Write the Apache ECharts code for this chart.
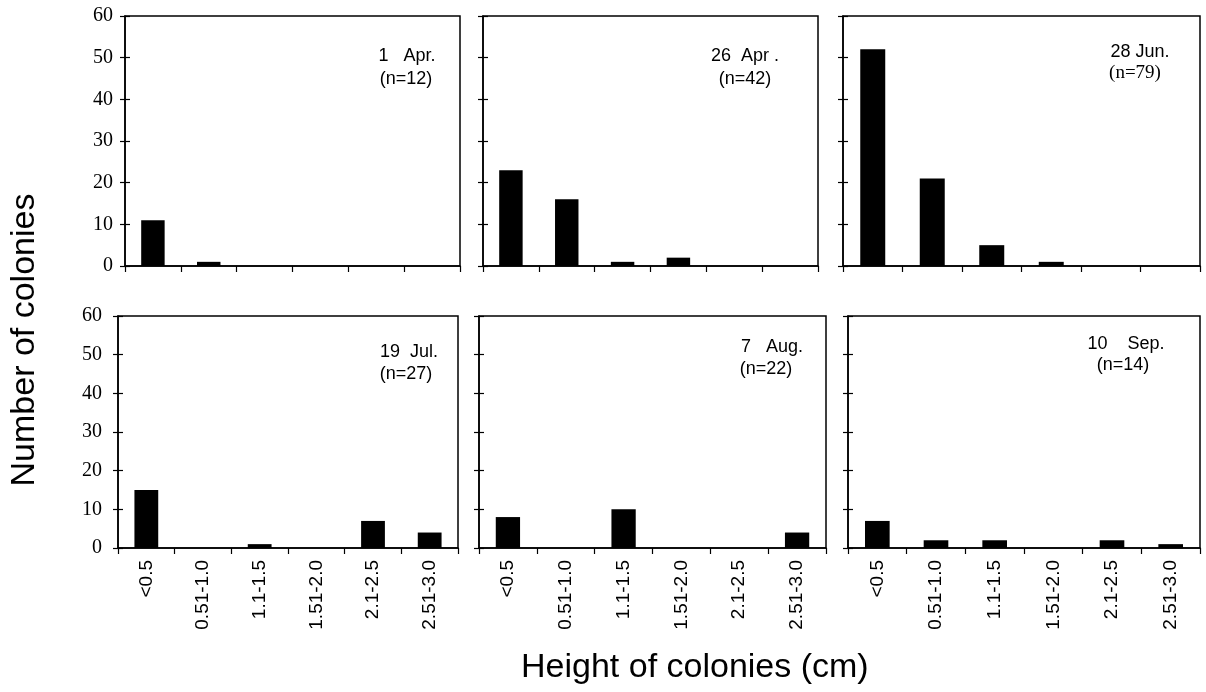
<!DOCTYPE HTML>
<html>
<head>
<meta http-equiv="Content-Type" content="text/html; charset=utf-8">
<title>Height of colonies</title>
<script type="text/javascript" src="https://cdn.jsdelivr.net/npm/echarts@6/dist/echarts.min.js"></script>
<style>
  body { margin: 0; background: #fff; }
  #chart { width: 1206px; height: 692px; }
</style>
</head>
<body>
<div id="chart"></div>
<script type="text/javascript">
var categories = ['<0.5', '0.51-1.0', '1.1-1.5', '1.51-2.0', '2.1-2.5', '2.51-3.0'];
var yTicks = [0, 10, 20, 30, 40, 50, 60];

var apr1  = [11, 1, 0, 0, 0, 0];
var apr26 = [23, 16, 1, 2, 0, 0];
var jun28 = [52, 21, 5, 1, 0, 0];
var jul19 = [15, 0, 1, 0, 7, 4];
var aug7  = [8, 0, 10, 0, 0, 4];
var sep10 = [7, 2, 2, 0, 2, 1];

var panelData = [apr1, apr26, jun28, jul19, aug7, sep10];
var panelDate = ['1   Apr.', '26  Apr .', '28 Jun.', '19  Jul.', '7   Aug.', '10    Sep.'];
var panelN = ['(n=12)', '(n=42)', '(n=79)', '(n=27)', '(n=22)', '(n=14)'];

var grids = [
  {left: 125, top: 16,  width: 335, height: 250},
  {left: 483, top: 16,  width: 335, height: 250},
  {left: 843, top: 16,  width: 357, height: 250},
  {left: 118, top: 316, width: 340, height: 232},
  {left: 479, top: 316, width: 347, height: 232},
  {left: 848, top: 316, width: 352, height: 232}
];
// annotation positions: [date x, date y, n x, n y]
var notePos = [
  [407, 47, 406, 70],
  [745, 47, 745, 70],
  [1140, 43, 1135, 64],
  [409, 343, 406, 365],
  [772, 338, 766, 360],
  [1126, 335, 1123, 356]
];

var sans = 'Arial, "Liberation Sans", sans-serif';
var serif = '"Times New Roman", "Liberation Serif", serif';

var chart = echarts.init(document.getElementById('chart'));

var gridOpts = [], xAxes = [], yAxes = [], series = [], graphics = [];
for (var i = 0; i < 6; i++) {
  var g = grids[i];
  gridOpts.push({left: g.left, top: g.top, width: g.width, height: g.height,
    show: true, borderColor: '#000', borderWidth: 1.5, containLabel: false});
  xAxes.push({
    type: 'category', gridIndex: i, data: categories, boundaryGap: true,
    axisLine: {lineStyle: {color: '#000', width: 1.5}},
    axisTick: {show: true, length: 6, lineStyle: {color: '#000', width: 1.2}},
    axisLabel: {show: i >= 3, rotate: 90, interval: 0, margin: 12,
      color: '#000', fontSize: 19, fontFamily: sans},
    splitLine: {show: false}
  });
  // outer ticks with labels
  yAxes.push({
    type: 'value', gridIndex: i, min: 0, max: 60, interval: 10,
    axisLine: {show: true, lineStyle: {color: '#000', width: 1.5}},
    axisTick: {show: true, length: 5, lineStyle: {color: '#000', width: 1.2}},
    axisLabel: {show: i === 0 || i === 3, color: '#000', fontSize: 20,
      fontFamily: serif, margin: i === 3 ? 16 : 12},
    splitLine: {show: false}
  });
  // inner ticks so they cross the axis like the original
  yAxes.push({
    type: 'value', gridIndex: i, min: 0, max: 60, interval: 10, position: 'left',
    axisLine: {show: false},
    axisTick: {show: true, inside: true, length: 5, lineStyle: {color: '#000', width: 1.2}},
    axisLabel: {show: false},
    splitLine: {show: false}
  });
  series.push({
    type: 'bar', xAxisIndex: i, yAxisIndex: i * 2, data: panelData[i],
    barWidth: '42%', itemStyle: {color: '#000'}, silent: true
  });
  var p = notePos[i];
  graphics.push({type: 'text', x: p[0], y: p[1],
    style: {text: panelDate[i], textAlign: 'center', fill: '#000',
      font: '18px ' + sans}});
  graphics.push({type: 'text', x: p[2], y: p[3],
    style: {text: panelN[i], textAlign: 'center', fill: '#000',
      font: (i === 2 ? '19px ' + serif : '18px ' + sans)}});
}

graphics.push({type: 'text', x: 8, y: 340, rotation: Math.PI / 2,
  style: {text: 'Number of colonies', textAlign: 'center', textVerticalAlign: 'top',
    fill: '#000', font: '34px ' + sans}});
graphics.push({type: 'text', x: 521, y: 651,
  style: {text: 'Height of colonies (cm)', textAlign: 'left', fill: '#000',
    font: '34px ' + sans}});

chart.setOption({
  animation: false,
  backgroundColor: '#fff',
  grid: gridOpts,
  xAxis: xAxes,
  yAxis: yAxes,
  series: series,
  graphic: graphics
});
</script>
</body>
</html>
